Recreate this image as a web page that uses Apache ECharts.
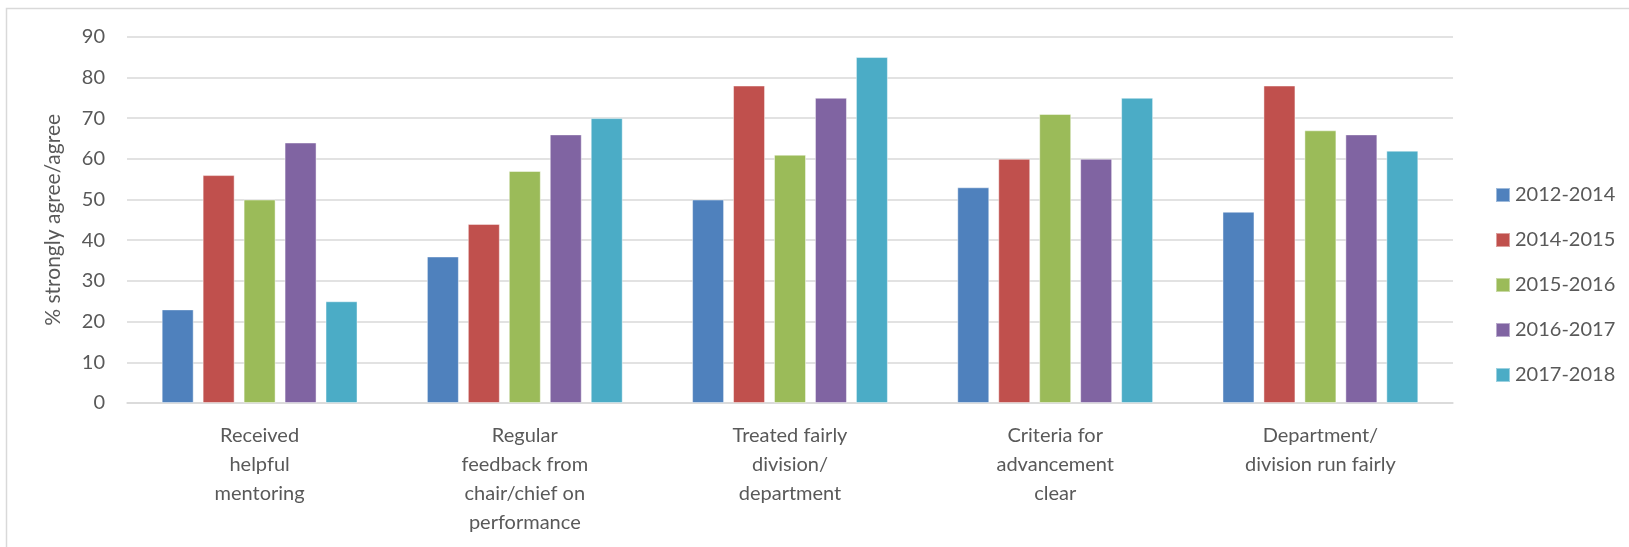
<!DOCTYPE html>
<html>
<head>
<meta charset="utf-8">
<script src="https://cdn.jsdelivr.net/npm/echarts@6/dist/echarts.min.js"></script>
<style>
  html, body { margin: 0; padding: 0; background: #fff; }
  #chart { width: 1629px; height: 547px; }
</style>
</head>
<body>
<div id="chart"></div>
<script>
// Survey items on the x-axis
const categories = [
  'Received\nhelpful\nmentoring',
  'Regular\nfeedback from\nchair/chief on\nperformance',
  'Treated fairly\ndivision/\ndepartment',
  'Criteria for\nadvancement\nclear',
  'Department/\ndivision run fairly'
];

// % strongly agree/agree per survey period
const period2012_2014 = [23, 36, 50, 53, 47];
const period2014_2015 = [56, 44, 78, 60, 78];
const period2015_2016 = [50, 57, 61, 71, 67];
const period2016_2017 = [64, 66, 75, 60, 66];
const period2017_2018 = [25, 70, 85, 75, 62];

const seriesNames = ['2012-2014', '2014-2015', '2015-2016', '2016-2017', '2017-2018'];
const seriesData = [period2012_2014, period2014_2015, period2015_2016, period2016_2017, period2017_2018];
const colors = ['#4F81BD', '#C0504D', '#9BBB59', '#8064A2', '#4BACC6'];

const font = 'Lato, "Open Sans", sans-serif';
const textColor = '#595959';

const chart = echarts.init(document.getElementById('chart'));
chart.setOption({
  animation: false,
  color: colors,
  graphic: [{
    type: 'rect',
    shape: { x: 6.5, y: 8.5, width: 1700, height: 700 },
    style: { fill: 'none', stroke: '#D9D9D9', lineWidth: 1.5 },
    silent: true
  }],
  grid: { left: 127, right: 176, top: 36.7, bottom: 144, containLabel: false },
  legend: {
    orient: 'vertical',
    left: 1490,
    top: 180,
    itemWidth: 14,
    itemHeight: 14,
    itemGap: 25,
    icon: 'rect',
    textStyle: { fontFamily: font, fontSize: 20, color: textColor, lineHeight: 20, padding: [0, 0, 0, 0] },
    data: seriesNames
  },
  xAxis: {
    type: 'category',
    data: categories,
    axisLine: { lineStyle: { color: '#D9D9D9', width: 1.5 } },
    axisTick: { show: false },
    axisLabel: {
      interval: 0,
      margin: 18,
      fontFamily: font,
      fontSize: 20,
      lineHeight: 29,
      color: textColor,
      align: 'center'
    }
  },
  yAxis: {
    type: 'value',
    min: 0,
    max: 90,
    interval: 10,
    name: '% strongly agree/agree',
    nameLocation: 'middle',
    nameGap: 63,
    nameTextStyle: { fontFamily: font, fontSize: 21, color: textColor },
    axisLine: { show: false },
    axisTick: { show: false },
    axisLabel: { margin: 22, fontFamily: font, fontSize: 20, color: textColor },
    splitLine: { lineStyle: { color: '#D9D9D9', width: 1.5 } }
  },
  series: seriesNames.map((name, i) => ({
    name: name,
    type: 'bar',
    data: seriesData[i],
    barWidth: 32,
    barGap: '28%',
    itemStyle: { color: colors[i], borderColor: 'rgba(255,255,255,0.45)', borderWidth: 1 }
  }))
});
</script>
</body>
</html>
